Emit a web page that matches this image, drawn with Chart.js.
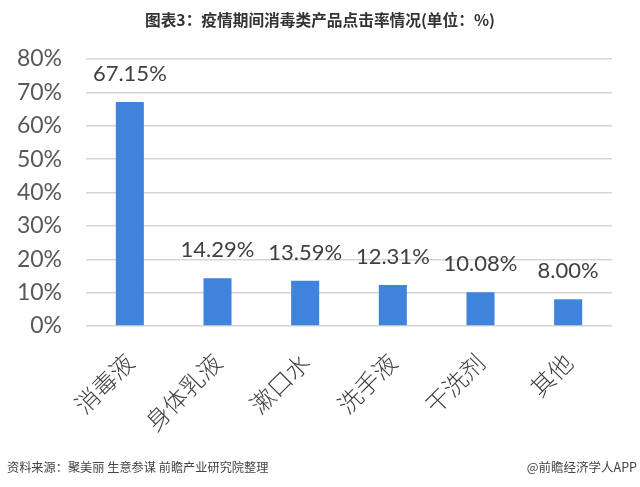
<!DOCTYPE html>
<html>
<head>
<meta charset="utf-8">
<script src="https://cdn.jsdelivr.net/npm/chart.js@4.4.0/dist/chart.umd.min.js"></script>
<style>
  html, body { margin: 0; padding: 0; background: #ffffff; }
  #wrap { position: relative; width: 640px; height: 487px; overflow: hidden; background: #fff; }
  #chart { position: absolute; left: 0; top: 0; }
  .title { position: absolute; left: 0; top: 9px; width: 640px; text-align: center;
    font-family: "Noto Sans CJK SC", sans-serif; font-weight: bold; font-size: 15.7px; color: #333; line-height: 22px; }
  .src { position: absolute; left: 7px; top: 458px; font-family: "Noto Sans CJK SC", sans-serif;
    font-size: 12.2px; color: #444; line-height: 18px; }
  .brand { position: absolute; right: 3px; top: 458px; font-family: "Noto Sans CJK SC", sans-serif;
    font-size: 12.5px; color: #444; line-height: 18px; }
</style>
</head>
<body>
<div id="wrap">
  <canvas id="chart" width="640" height="487"></canvas>
  <div class="title">图表3：疫情期间消毒类产品点击率情况(单位：%)</div>
  <div class="src">资料来源：聚美丽 生意参谋 前瞻产业研究院整理</div>
  <div class="brand">@前瞻经济学人APP</div>
</div>
<script>
const categories = ["消毒液", "身体乳液", "漱口水", "洗手液", "干洗剂", "其他"];
const values = [67.15, 14.29, 13.59, 12.31, 10.08, 8.00];
const valueLabels = ["67.15%", "14.29%", "13.59%", "12.31%", "10.08%", "8.00%"];
const yTicks = [0, 10, 20, 30, 40, 50, 60, 70, 80];

const valueLabelPlugin = {
  id: 'valueLabels',
  afterDatasetsDraw(chart) {
    const ctx = chart.ctx;
    const meta = chart.getDatasetMeta(0);
    ctx.save();
    ctx.font = '22px Lato, "Liberation Sans", sans-serif';
    ctx.fillStyle = '#404040';
    ctx.textAlign = 'center';
    ctx.textBaseline = 'middle';
    meta.data.forEach((bar, i) => {
      ctx.fillText(valueLabels[i], bar.x, bar.y - 28);
    });
    ctx.restore();
  }
};

new Chart(document.getElementById('chart'), {
  type: 'bar',
  data: {
    labels: categories,
    datasets: [{
      data: values,
      backgroundColor: '#3F83DC',
      borderWidth: 0,
      categoryPercentage: 1,
      barPercentage: 0.32
    }]
  },
  options: {
    responsive: false,
    animation: false,
    devicePixelRatio: 1,
    layout: { padding: { top: 59, right: 28, bottom: 0, left: 0 } },
    plugins: { legend: { display: false }, tooltip: { enabled: false }, title: { display: false } },
    scales: {
      x: {
        grid: { display: false, drawTicks: false },
        border: { display: false },
        ticks: {
          autoSkip: false,
          minRotation: 45,
          maxRotation: 45,
          padding: 22,
          color: '#404040',
          font: { family: '"Noto Sans CJK SC", sans-serif', size: 24, weight: 300 }
        },
        afterFit(s) { s.height = 161; }
      },
      y: {
        min: 0,
        max: 80,
        afterBuildTicks(s) { s.ticks = yTicks.map(v => ({ value: v })); },
        grid: { color: '#D6D6D6', lineWidth: 1.5, drawTicks: false },
        border: { display: false },
        ticks: {
          padding: 24,
          color: '#595959',
          font: { family: 'Lato, "Liberation Sans", sans-serif', size: 23 },
          callback: v => v + '%'
        },
        afterFit(s) { s.width = 86; }
      }
    }
  },
  plugins: [valueLabelPlugin]
});
</script>
</body>
</html>
